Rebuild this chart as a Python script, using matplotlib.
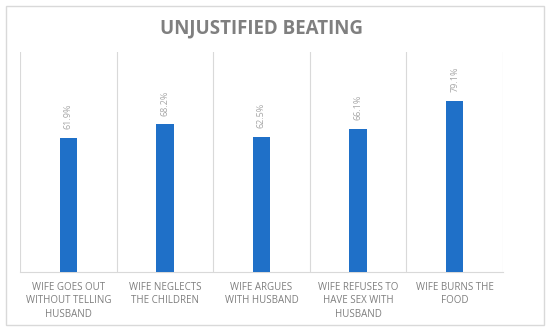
import matplotlib
matplotlib.use("Agg")
import matplotlib.pyplot as plt
from matplotlib.patches import Rectangle

categories = ["WIFE GOES OUT\nWITHOUT TELLING\nHUSBAND",
              "WIFE NEGLECTS\nTHE CHILDREN",
              "WIFE ARGUES\nWITH HUSBAND",
              "WIFE REFUSES TO\nHAVE SEX WITH\nHUSBAND",
              "WIFE BURNS THE\nFOOD"]
values = [61.9, 68.2, 62.5, 66.1, 79.1]
labels = ["61.9%", "68.2%", "62.5%", "66.1%", "79.1%"]
title = "UNJUSTIFIED BEATING"

plt.rcParams['font.family'] = ['Open Sans', 'DejaVu Sans']

fig = plt.figure(figsize=(5.5, 3.31), dpi=100)
fig.patches.append(Rectangle((6/550, 6/331), 538/550, 319/331, transform=fig.transFigure,
                             fill=False, edgecolor='#D9D9D9', linewidth=1))
ax = fig.add_axes([20/550, 59/331, 483/550, 220/331])

x = list(range(len(values)))
ax.bar(x, values, width=0.18, color='#1F70C8', zorder=3)
ax.set_xlim(-0.5, len(values) - 0.5)
ax.set_ylim(0, 101.5)

for xi, v, lab in zip(x, values, labels):
    ax.annotate(lab, (xi, v), xytext=(0, 6), textcoords='offset points',
                rotation=90, ha='center', va='bottom', fontsize=6.5, color='#A6A6A6')

for b in [i - 0.5 for i in range(len(values) + 1)]:
    ax.axvline(b, color='#D9D9D9', linewidth=0.8, zorder=1)

ax.set_xticks(x)
ax.set_xticklabels(categories, fontsize=7, color='#7F7F7F', linespacing=1.3)
ax.tick_params(axis='x', length=0, pad=7)
ax.set_yticks([])
for s in ['top', 'left', 'right']:
    ax.spines[s].set_visible(False)
ax.spines['bottom'].set_color('#D9D9D9')

fig.text(261/550, 1 - 28/331, title, ha='center', va='center', fontsize=13.5,
         fontweight='bold', color='#7F7F7F')

fig.savefig("out.png", dpi=100)
